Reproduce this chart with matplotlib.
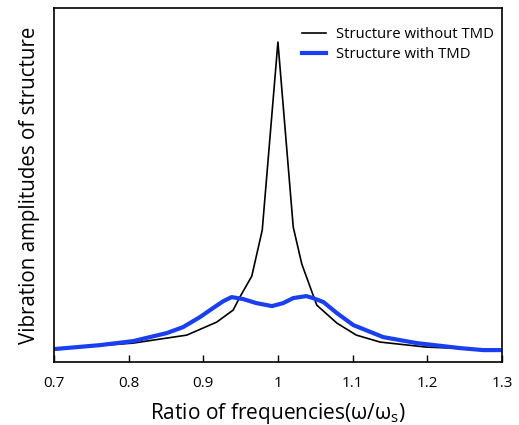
import matplotlib
matplotlib.use("Agg")
import matplotlib.pyplot as plt

plt.rcParams['font.family'] = ['Open Sans', 'DejaVu Sans']
plt.rcParams['mathtext.fontset'] = 'custom'
plt.rcParams['mathtext.rm'] = 'Open Sans'

# response without TMD (arbitrary units)
x_no = [0.70, 0.806, 0.878, 0.918, 0.940, 0.949, 0.965, 0.979, 1.000,
        1.0205, 1.032, 1.052, 1.079, 1.105, 1.137, 1.199, 1.300]
y_no = [13, 19, 27, 40, 52, 65, 86, 132, 320,
        135, 98, 57, 39, 27, 20, 15, 12]

# response with TMD
x_tmd = [0.70, 0.762, 0.806, 0.851, 0.873, 0.8955, 0.913, 0.927, 0.938,
         0.9535, 0.971, 0.992, 1.007, 1.0205, 1.038, 1.047, 1.061, 1.079,
         1.101, 1.141, 1.186, 1.244, 1.275, 1.300]
y_tmd = [13, 17, 21, 29, 35, 45, 54, 61, 65,
         63, 59, 56, 59, 64, 66, 64, 60, 49,
         37, 25, 19, 14, 12, 12]

xticks = [0.7, 0.8, 0.9, 1.0, 1.1, 1.2, 1.3]
xlabels = ["0.7", "0.8", "0.9", "1", "1.1", "1.2", "1.3"]

fig = plt.figure(figsize=(5.19, 4.25), dpi=100)
ax = fig.add_axes([0.104, 0.148, 0.863, 0.833])

ax.plot(x_no, y_no, color='black', lw=1.2, label='Structure without TMD')
ax.plot(x_tmd, y_tmd, color='#1a3ff0', lw=3.0, label='Structure with TMD',
        solid_joinstyle='round')

ax.set_xlim(0.7, 1.3)
ax.set_ylim(0, 354)
ax.set_xticks(xticks)
ax.set_xticklabels(xlabels, fontsize=11)
ax.set_yticks([])
ax.tick_params(axis='x', direction='in', length=5, width=1, pad=10)
for s in ax.spines.values():
    s.set_linewidth(1.2)

ax.set_xlabel('Ratio of frequencies(ω/ω$_\\mathregular{s}$)', fontsize=15, labelpad=7)
ax.set_ylabel('Vibration amplitudes of structure', fontsize=14.8, labelpad=10)

ax.legend(loc='upper right', bbox_to_anchor=(1.013, 0.983), frameon=False,
          fontsize=10.7, handlelength=1.65, handletextpad=0.7,
          borderaxespad=0.5, labelspacing=0.3)

fig.savefig('out.png', dpi=100)
